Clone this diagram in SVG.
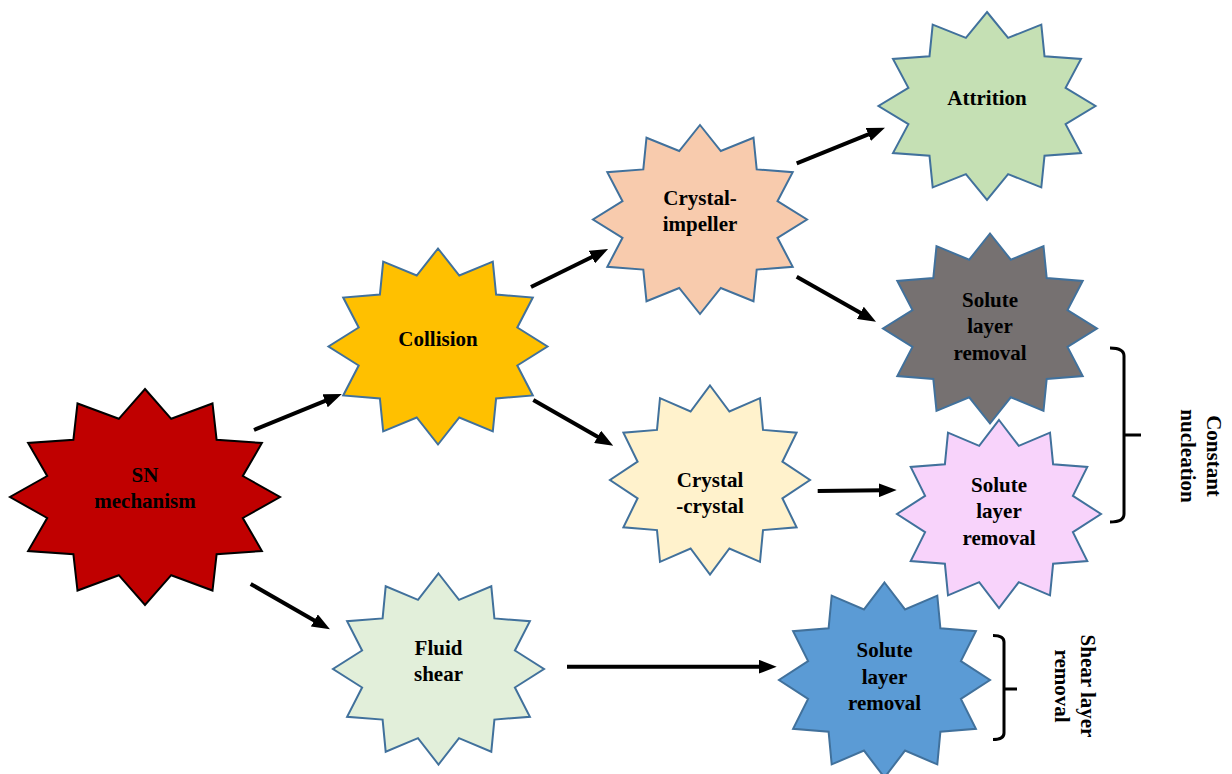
<svg xmlns="http://www.w3.org/2000/svg" width="1232" height="774" viewBox="0 0 1232 774">
<style>
.star{stroke:#41719C;stroke-width:2;stroke-linejoin:miter}
.lbl{font-family:"Liberation Serif","Times New Roman",serif;font-weight:bold;font-size:21px;text-anchor:middle;fill:#000}
.arr{stroke:#000;stroke-width:4;fill:none;marker-end:url(#ah)}
.brk{stroke:#000;stroke-width:3;fill:none}
</style>
<defs>
<marker id="ah" viewBox="0 0 18 14" markerUnits="userSpaceOnUse" markerWidth="18" markerHeight="14" refX="4" refY="7" orient="auto">
<path d="M0,0 L18,7 L0,14 z" fill="#000"/>
</marker>
</defs>
<rect width="1232" height="774" fill="#fff"/>
<g id="connectors">
<line class="arr" x1="254" y1="430" x2="328.8" y2="399.3"/>
<line class="arr" x1="250.7" y1="584" x2="317.8" y2="622.4"/>
<line class="arr" x1="531" y1="287" x2="595.5" y2="255.3"/>
<line class="arr" x1="533.3" y1="400" x2="601.1" y2="438.8"/>
<line class="arr" x1="796.7" y1="163.3" x2="872" y2="132.9"/>
<line class="arr" x1="796.7" y1="276.7" x2="863.8" y2="314.8"/>
<line class="arr" x1="817.7" y1="491" x2="882.7" y2="490.2"/>
<line class="arr" x1="567" y1="666.7" x2="762.7" y2="666.7"/>
<path class="brk" d="M1110,348 Q1124,348 1124,356 L1124,514 Q1124,522 1110,522 M1124,435 L1141,435"/>
<path class="brk" d="M993,635.5 Q1004,635.5 1004,642 L1004,733 Q1004,739.5 993,739.5 M1004,689 L1017,689"/>
</g>
<g id="node-sn">
<polygon class="star" style="stroke:#000" fill="#C00000" points="145,389 171.2,418.8 212.5,403.5 216.6,439.7 261.9,443 242.8,476 280,497 242.8,518 261.9,551 216.6,554.3 212.5,590.5 171.2,575.2 145,605 118.8,575.2 77.5,590.5 73.4,554.3 28.1,551 47.2,518 10,497 47.2,476 28.1,443 73.4,439.7 77.5,403.5 118.8,418.8"/>
<text class="lbl" x="145" y="482">SN</text>
<text class="lbl" x="145" y="508">mechanism</text>
</g>
<g id="node-collision">
<polygon class="star" fill="#FFC000" points="438,248.5 459.3,275.5 492.8,261.6 496.1,294.5 532.8,297.5 517.3,327.5 547.5,346.5 517.3,365.5 532.8,395.5 496.1,398.5 492.8,431.4 459.3,417.5 438,444.5 416.7,417.5 383.2,431.4 379.9,398.5 343.2,395.5 358.7,365.5 328.5,346.5 358.7,327.5 343.2,297.5 379.9,294.5 383.2,261.6 416.7,275.5"/>
<text class="lbl" x="438" y="346">Collision</text>
</g>
<g id="node-crystal-impeller">
<polygon class="star" fill="#F8CBAD" points="700,125 720.8,151 753.5,137.7 756.7,169.4 792.7,172.2 777.5,201.2 807,219.5 777.5,237.8 792.7,266.8 756.7,269.6 753.5,301.3 720.8,288 700,314 679.2,288 646.5,301.3 643.3,269.6 607.3,266.8 622.5,237.8 593,219.5 622.5,201.2 607.3,172.2 643.3,169.4 646.5,137.7 679.2,151"/>
<text class="lbl" x="700" y="204.5">Crystal-</text>
<text class="lbl" x="700" y="231">impeller</text>
</g>
<g id="node-attrition">
<polygon class="star" fill="#C5E0B4" points="987,12 1008.1,37.9 1041.3,24.6 1044.5,56.2 1081,59 1065.6,87.8 1095.5,106 1065.6,124.2 1081,153 1044.5,155.8 1041.3,187.4 1008.1,174.1 987,200 965.9,174.1 932.7,187.4 929.5,155.8 893,153 908.4,124.2 878.5,106 908.4,87.8 893,59 929.5,56.2 932.7,24.6 965.9,37.9"/>
<text class="lbl" x="987" y="104.5">Attrition</text>
</g>
<g id="node-crystal-crystal">
<polygon class="star" fill="#FFF2CC" points="710,385.5 729.4,411.5 760,398.2 763,429.9 796.6,432.7 782.4,461.7 810,480 782.4,498.3 796.6,527.3 763,530.1 760,561.8 729.4,548.5 710,574.5 690.6,548.5 660,561.8 657,530.1 623.4,527.3 637.6,498.3 610,480 637.6,461.7 623.4,432.7 657,429.9 660,398.2 690.6,411.5"/>
<text class="lbl" x="710" y="486.5">Crystal</text>
<text class="lbl" x="710" y="513">-crystal</text>
</g>
<g id="node-solute-pink">
<polygon class="star" fill="#F8D3FB" points="999,420 1018.8,445.9 1050,432.6 1053.1,464.2 1087.3,467 1072.9,495.8 1101,514 1072.9,532.2 1087.3,561 1053.1,563.8 1050,595.4 1018.8,582.1 999,608 979.2,582.1 948,595.4 944.9,563.8 910.7,561 925.1,532.2 897,514 925.1,495.8 910.7,467 944.9,464.2 948,432.6 979.2,445.9"/>
<text class="lbl" x="999" y="491.5">Solute</text>
<text class="lbl" x="999" y="518">layer</text>
<text class="lbl" x="999" y="545">removal</text>
</g>
<g id="node-solute-gray">
<polygon class="star" fill="#767171" points="990,233.5 1010.8,259.7 1043.5,246.2 1046.7,278.1 1082.7,281 1067.5,310.1 1097,328.5 1067.5,346.9 1082.7,376 1046.7,378.9 1043.5,410.8 1010.8,397.3 990,423.5 969.2,397.3 936.5,410.8 933.3,378.9 897.3,376 912.5,346.9 883,328.5 912.5,310.1 897.3,281 933.3,278.1 936.5,246.2 969.2,259.7"/>
<text class="lbl" x="990" y="306.7">Solute</text>
<text class="lbl" x="990" y="333">layer</text>
<text class="lbl" x="990" y="359.5">removal</text>
</g>
<g id="node-fluid-shear">
<polygon class="star" fill="#E2EFDA" points="438.5,573.5 459,599.8 491.3,586.3 494.4,618.4 529.9,621.2 514.9,650.5 544,669 514.9,687.5 529.9,716.8 494.4,719.6 491.3,751.7 459,738.2 438.5,764.5 418,738.2 385.7,751.7 382.6,719.6 347.1,716.8 362.1,687.5 333,669 362.1,650.5 347.1,621.2 382.6,618.4 385.7,586.3 418,599.8"/>
<text class="lbl" x="438.5" y="654.5">Fluid</text>
<text class="lbl" x="438.5" y="680.5">shear</text>
</g>
<g id="node-solute-blue">
<polygon class="star" fill="#5B9BD5" points="884.5,582.5 905,609.4 937.3,595.6 940.4,628.3 975.9,631.2 960.9,661.1 990,680 960.9,698.9 975.9,728.8 940.4,731.7 937.3,764.4 905,750.6 884.5,777.5 864,750.6 831.7,764.4 828.6,731.7 793.1,728.8 808.1,698.9 779,680 808.1,661.1 793.1,631.2 828.6,628.3 831.7,595.6 864,609.4"/>
<text class="lbl" x="884.5" y="656.5">Solute</text>
<text class="lbl" x="884.5" y="683.5">layer</text>
<text class="lbl" x="884.5" y="710">removal</text>
</g>
<g id="label-constant-nucleation">
<text class="lbl" transform="translate(1207,456) rotate(90)"><tspan x="0" y="0">Constant</tspan><tspan x="0" y="26">nucleation</tspan></text>
</g>
<g id="label-shear-layer-removal">
<text class="lbl" transform="translate(1081,686) rotate(90)"><tspan x="0" y="0">Shear layer</tspan><tspan x="0" y="26">removal</tspan></text>
</g>
</svg>
